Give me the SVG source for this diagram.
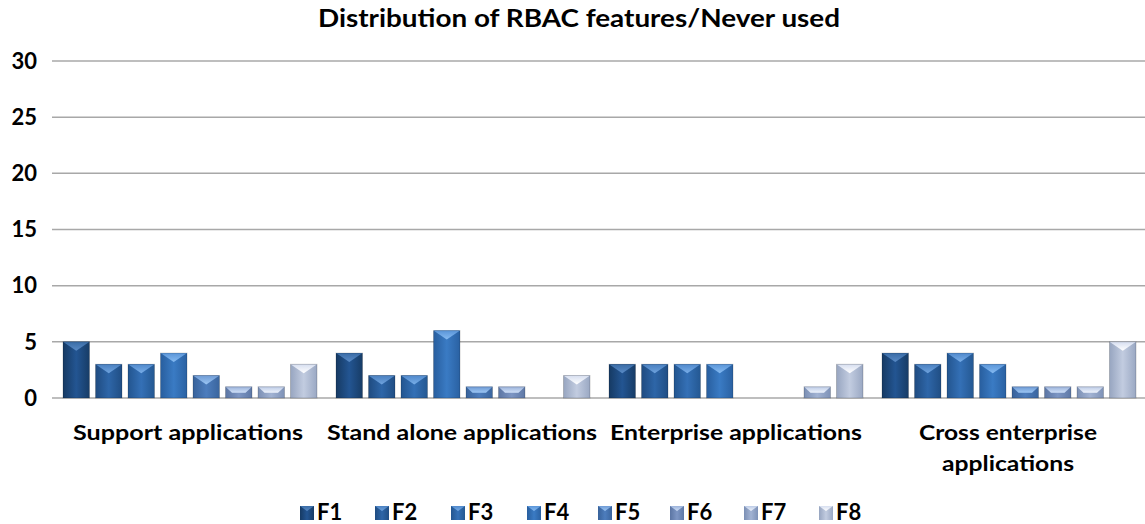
<svg xmlns="http://www.w3.org/2000/svg" width="1145" height="524" viewBox="0 0 1145 524">
  <style>
    .txt { font-family: "Lato", "Open Sans", "Liberation Sans", sans-serif; font-weight: 700; fill: #000; }
    .title { font-size: 24px; }
    .axis { font-size: 22px; }
    .cat { font-size: 21px; }
    .leg { font-size: 22px; }
    .grid { stroke: #a8a8a8; stroke-width: 1.5; fill: none; }
    .edge { fill: none; stroke: #000; stroke-opacity: 0.18; stroke-width: 1; }
  </style>
  <defs>
    <!-- body gradients: darker sides, lighter centre -->
    <linearGradient id="b1" x1="0" y1="0" x2="1" y2="0"><stop offset="0" stop-color="#163a63"/><stop offset="0.5" stop-color="#235592"/><stop offset="1" stop-color="#173c66"/></linearGradient>
    <linearGradient id="b2" x1="0" y1="0" x2="1" y2="0"><stop offset="0" stop-color="#1f4b80"/><stop offset="0.5" stop-color="#2e66a8"/><stop offset="1" stop-color="#204e84"/></linearGradient>
    <linearGradient id="b3" x1="0" y1="0" x2="1" y2="0"><stop offset="0" stop-color="#23558f"/><stop offset="0.5" stop-color="#3470b6"/><stop offset="1" stop-color="#245892"/></linearGradient>
    <linearGradient id="b4" x1="0" y1="0" x2="1" y2="0"><stop offset="0" stop-color="#285e9e"/><stop offset="0.5" stop-color="#3a7bc4"/><stop offset="1" stop-color="#2a61a2"/></linearGradient>
    <linearGradient id="b5" x1="0" y1="0" x2="1" y2="0"><stop offset="0" stop-color="#38629a"/><stop offset="0.5" stop-color="#4d7dbd"/><stop offset="1" stop-color="#3a659e"/></linearGradient>
    <linearGradient id="b6" x1="0" y1="0" x2="1" y2="0"><stop offset="0" stop-color="#5b75a3"/><stop offset="0.5" stop-color="#7d96c4"/><stop offset="1" stop-color="#5e78a6"/></linearGradient>
    <linearGradient id="b7" x1="0" y1="0" x2="1" y2="0"><stop offset="0" stop-color="#7b8fb4"/><stop offset="0.5" stop-color="#a2b3d3"/><stop offset="1" stop-color="#7e92b7"/></linearGradient>
    <linearGradient id="b8" x1="0" y1="0" x2="1" y2="0"><stop offset="0" stop-color="#97a5c0"/><stop offset="0.5" stop-color="#c2cce0"/><stop offset="1" stop-color="#9aa8c3"/></linearGradient>
    <!-- top bevel gradients -->
    <linearGradient id="t1" x1="0" y1="0" x2="0" y2="1"><stop offset="0" stop-color="#3a6ca6"/><stop offset="1" stop-color="#5a8bc6"/></linearGradient>
    <linearGradient id="t2" x1="0" y1="0" x2="0" y2="1"><stop offset="0" stop-color="#4a80c0"/><stop offset="1" stop-color="#6fa3de"/></linearGradient>
    <linearGradient id="t3" x1="0" y1="0" x2="0" y2="1"><stop offset="0" stop-color="#5089cc"/><stop offset="1" stop-color="#79aee8"/></linearGradient>
    <linearGradient id="t4" x1="0" y1="0" x2="0" y2="1"><stop offset="0" stop-color="#5a95d8"/><stop offset="1" stop-color="#86bbf2"/></linearGradient>
    <linearGradient id="t5" x1="0" y1="0" x2="0" y2="1"><stop offset="0" stop-color="#6e9ad4"/><stop offset="1" stop-color="#9cc6f4"/></linearGradient>
    <linearGradient id="t6" x1="0" y1="0" x2="0" y2="1"><stop offset="0" stop-color="#9bb2da"/><stop offset="1" stop-color="#cfe0f8"/></linearGradient>
    <linearGradient id="t7" x1="0" y1="0" x2="0" y2="1"><stop offset="0" stop-color="#bccbe6"/><stop offset="1" stop-color="#eef3fc"/></linearGradient>
    <linearGradient id="t8" x1="0" y1="0" x2="0" y2="1"><stop offset="0" stop-color="#d6def0"/><stop offset="1" stop-color="#ffffff"/></linearGradient>
  </defs>

  <rect width="1145" height="524" fill="#ffffff"/>

  <text class="txt title" x="579" y="27" text-anchor="middle" textLength="522" lengthAdjust="spacingAndGlyphs">Distribution of RBAC features/Never used</text>

  <!-- value axis labels and gridlines -->
  <g id="axis">
    <line class="grid" x1="52" y1="61" x2="1145" y2="61"/>
    <line class="grid" x1="52" y1="117.2" x2="1145" y2="117.2"/>
    <line class="grid" x1="52" y1="173.3" x2="1145" y2="173.3"/>
    <line class="grid" x1="52" y1="229.5" x2="1145" y2="229.5"/>
    <line class="grid" x1="52" y1="285.7" x2="1145" y2="285.7"/>
    <line class="grid" x1="52" y1="341.8" x2="1145" y2="341.8"/>
    <line class="grid" x1="52" y1="398" x2="1145" y2="398"/>
    <text class="txt axis" x="37" y="69" text-anchor="end">30</text>
    <text class="txt axis" x="37" y="125" text-anchor="end">25</text>
    <text class="txt axis" x="37" y="181" text-anchor="end">20</text>
    <text class="txt axis" x="37" y="237" text-anchor="end">15</text>
    <text class="txt axis" x="37" y="293" text-anchor="end">10</text>
    <text class="txt axis" x="37" y="350" text-anchor="end">5</text>
    <text class="txt axis" x="37" y="406" text-anchor="end">0</text>
  </g>

  <!-- bars: width 26.5, 11.234 px per unit, baseline y=398 -->
  <g id="support-applications">
    <g transform="translate(63,341.8)"><rect width="26.5" height="56.2" fill="url(#b1)"/><polygon points="0,0 26.5,0 13.25,9" fill="url(#t1)"/><rect class="edge" width="26.5" height="56.2"/></g>
    <g transform="translate(95.5,364.3)"><rect width="26.5" height="33.7" fill="url(#b2)"/><polygon points="0,0 26.5,0 13.25,9" fill="url(#t2)"/><rect class="edge" width="26.5" height="33.7"/></g>
    <g transform="translate(128,364.3)"><rect width="26.5" height="33.7" fill="url(#b3)"/><polygon points="0,0 26.5,0 13.25,9" fill="url(#t3)"/><rect class="edge" width="26.5" height="33.7"/></g>
    <g transform="translate(160.5,353.1)"><rect width="26.5" height="44.9" fill="url(#b4)"/><polygon points="0,0 26.5,0 13.25,9" fill="url(#t4)"/><rect class="edge" width="26.5" height="44.9"/></g>
    <g transform="translate(193,375.5)"><rect width="26.5" height="22.5" fill="url(#b5)"/><polygon points="0,0 26.5,0 13.25,9" fill="url(#t5)"/><rect class="edge" width="26.5" height="22.5"/></g>
    <g transform="translate(225.5,386.8)"><rect width="26.5" height="11.2" fill="url(#b6)"/><polygon points="0,0 26.5,0 20,6 6.5,6" fill="url(#t6)"/><rect class="edge" width="26.5" height="11.2"/></g>
    <g transform="translate(258,386.8)"><rect width="26.5" height="11.2" fill="url(#b7)"/><polygon points="0,0 26.5,0 20,6 6.5,6" fill="url(#t7)"/><rect class="edge" width="26.5" height="11.2"/></g>
    <g transform="translate(290.5,364.3)"><rect width="26.5" height="33.7" fill="url(#b8)"/><polygon points="0,0 26.5,0 13.25,9" fill="url(#t8)"/><rect class="edge" width="26.5" height="33.7"/></g>
  </g>

  <g id="stand-alone-applications">
    <g transform="translate(336,353.1)"><rect width="26.5" height="44.9" fill="url(#b1)"/><polygon points="0,0 26.5,0 13.25,9" fill="url(#t1)"/><rect class="edge" width="26.5" height="44.9"/></g>
    <g transform="translate(368.5,375.5)"><rect width="26.5" height="22.5" fill="url(#b2)"/><polygon points="0,0 26.5,0 13.25,9" fill="url(#t2)"/><rect class="edge" width="26.5" height="22.5"/></g>
    <g transform="translate(401,375.5)"><rect width="26.5" height="22.5" fill="url(#b3)"/><polygon points="0,0 26.5,0 13.25,9" fill="url(#t3)"/><rect class="edge" width="26.5" height="22.5"/></g>
    <g transform="translate(433.5,330.6)"><rect width="26.5" height="67.4" fill="url(#b4)"/><polygon points="0,0 26.5,0 13.25,9" fill="url(#t4)"/><rect class="edge" width="26.5" height="67.4"/></g>
    <g transform="translate(466,386.8)"><rect width="26.5" height="11.2" fill="url(#b5)"/><polygon points="0,0 26.5,0 20,6 6.5,6" fill="url(#t5)"/><rect class="edge" width="26.5" height="11.2"/></g>
    <g transform="translate(498.5,386.8)"><rect width="26.5" height="11.2" fill="url(#b6)"/><polygon points="0,0 26.5,0 20,6 6.5,6" fill="url(#t6)"/><rect class="edge" width="26.5" height="11.2"/></g>
    <g transform="translate(563.5,375.5)"><rect width="26.5" height="22.5" fill="url(#b8)"/><polygon points="0,0 26.5,0 13.25,9" fill="url(#t8)"/><rect class="edge" width="26.5" height="22.5"/></g>
  </g>

  <g id="enterprise-applications">
    <g transform="translate(609,364.3)"><rect width="26.5" height="33.7" fill="url(#b1)"/><polygon points="0,0 26.5,0 13.25,9" fill="url(#t1)"/><rect class="edge" width="26.5" height="33.7"/></g>
    <g transform="translate(641.5,364.3)"><rect width="26.5" height="33.7" fill="url(#b2)"/><polygon points="0,0 26.5,0 13.25,9" fill="url(#t2)"/><rect class="edge" width="26.5" height="33.7"/></g>
    <g transform="translate(674,364.3)"><rect width="26.5" height="33.7" fill="url(#b3)"/><polygon points="0,0 26.5,0 13.25,9" fill="url(#t3)"/><rect class="edge" width="26.5" height="33.7"/></g>
    <g transform="translate(706.5,364.3)"><rect width="26.5" height="33.7" fill="url(#b4)"/><polygon points="0,0 26.5,0 13.25,9" fill="url(#t4)"/><rect class="edge" width="26.5" height="33.7"/></g>
    <g transform="translate(804,386.8)"><rect width="26.5" height="11.2" fill="url(#b7)"/><polygon points="0,0 26.5,0 20,6 6.5,6" fill="url(#t7)"/><rect class="edge" width="26.5" height="11.2"/></g>
    <g transform="translate(836.5,364.3)"><rect width="26.5" height="33.7" fill="url(#b8)"/><polygon points="0,0 26.5,0 13.25,9" fill="url(#t8)"/><rect class="edge" width="26.5" height="33.7"/></g>
  </g>

  <g id="cross-enterprise-applications">
    <g transform="translate(882,353.1)"><rect width="26.5" height="44.9" fill="url(#b1)"/><polygon points="0,0 26.5,0 13.25,9" fill="url(#t1)"/><rect class="edge" width="26.5" height="44.9"/></g>
    <g transform="translate(914.5,364.3)"><rect width="26.5" height="33.7" fill="url(#b2)"/><polygon points="0,0 26.5,0 13.25,9" fill="url(#t2)"/><rect class="edge" width="26.5" height="33.7"/></g>
    <g transform="translate(947,353.1)"><rect width="26.5" height="44.9" fill="url(#b3)"/><polygon points="0,0 26.5,0 13.25,9" fill="url(#t3)"/><rect class="edge" width="26.5" height="44.9"/></g>
    <g transform="translate(979.5,364.3)"><rect width="26.5" height="33.7" fill="url(#b4)"/><polygon points="0,0 26.5,0 13.25,9" fill="url(#t4)"/><rect class="edge" width="26.5" height="33.7"/></g>
    <g transform="translate(1012,386.8)"><rect width="26.5" height="11.2" fill="url(#b5)"/><polygon points="0,0 26.5,0 20,6 6.5,6" fill="url(#t5)"/><rect class="edge" width="26.5" height="11.2"/></g>
    <g transform="translate(1044.5,386.8)"><rect width="26.5" height="11.2" fill="url(#b6)"/><polygon points="0,0 26.5,0 20,6 6.5,6" fill="url(#t6)"/><rect class="edge" width="26.5" height="11.2"/></g>
    <g transform="translate(1077,386.8)"><rect width="26.5" height="11.2" fill="url(#b7)"/><polygon points="0,0 26.5,0 20,6 6.5,6" fill="url(#t7)"/><rect class="edge" width="26.5" height="11.2"/></g>
    <g transform="translate(1109.5,341.8)"><rect width="26.5" height="56.2" fill="url(#b8)"/><polygon points="0,0 26.5,0 13.25,9" fill="url(#t8)"/><rect class="edge" width="26.5" height="56.2"/></g>
  </g>

  <!-- category labels -->
  <g id="categories">
    <text class="txt cat" x="188" y="440" text-anchor="middle" textLength="230" lengthAdjust="spacingAndGlyphs">Support applications</text>
    <text class="txt cat" x="462" y="440" text-anchor="middle" textLength="270" lengthAdjust="spacingAndGlyphs">Stand alone applications</text>
    <text class="txt cat" x="736" y="440" text-anchor="middle" textLength="252" lengthAdjust="spacingAndGlyphs">Enterprise applications</text>
    <text class="txt cat" x="1008" y="440" text-anchor="middle" textLength="178" lengthAdjust="spacingAndGlyphs">Cross enterprise</text>
    <text class="txt cat" x="1008" y="471" text-anchor="middle" textLength="132" lengthAdjust="spacingAndGlyphs">applications</text>
  </g>

  <!-- legend -->
  <g id="legend">
    <g transform="translate(300,506)"><rect width="14" height="14" fill="url(#b1)"/><polygon points="0,0 14,0 7,5" fill="url(#t1)"/></g>
    <text class="txt leg" x="317" y="520">F1</text>
    <g transform="translate(375,506)"><rect width="14" height="14" fill="url(#b2)"/><polygon points="0,0 14,0 7,5" fill="url(#t2)"/></g>
    <text class="txt leg" x="392" y="520">F2</text>
    <g transform="translate(451,506)"><rect width="14" height="14" fill="url(#b3)"/><polygon points="0,0 14,0 7,5" fill="url(#t3)"/></g>
    <text class="txt leg" x="468" y="520">F3</text>
    <g transform="translate(527,506)"><rect width="14" height="14" fill="url(#b4)"/><polygon points="0,0 14,0 7,5" fill="url(#t4)"/></g>
    <text class="txt leg" x="544" y="520">F4</text>
    <g transform="translate(598,506)"><rect width="14" height="14" fill="url(#b5)"/><polygon points="0,0 14,0 7,5" fill="url(#t5)"/></g>
    <text class="txt leg" x="615" y="520">F5</text>
    <g transform="translate(670,506)"><rect width="14" height="14" fill="url(#b6)"/><polygon points="0,0 14,0 7,5" fill="url(#t6)"/></g>
    <text class="txt leg" x="687" y="520">F6</text>
    <g transform="translate(744,506)"><rect width="14" height="14" fill="url(#b7)"/><polygon points="0,0 14,0 7,5" fill="url(#t7)"/></g>
    <text class="txt leg" x="761" y="520">F7</text>
    <g transform="translate(819,506)"><rect width="14" height="14" fill="url(#b8)"/><polygon points="0,0 14,0 7,5" fill="url(#t8)"/></g>
    <text class="txt leg" x="836" y="520">F8</text>
  </g>
</svg>
